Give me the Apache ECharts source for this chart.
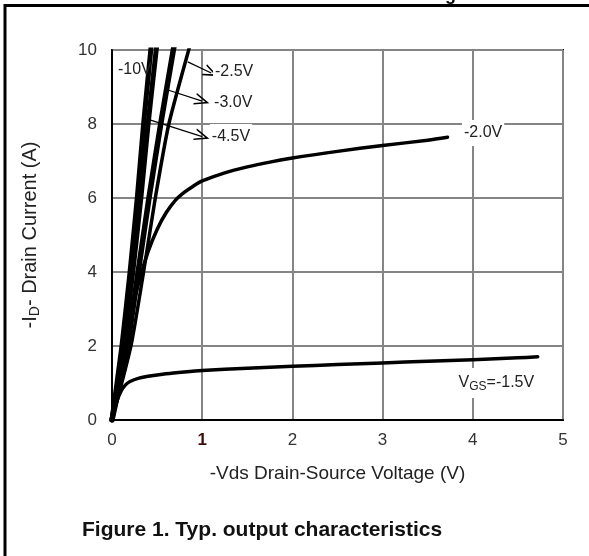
<!DOCTYPE html>
<html>
<head>
<meta charset="utf-8">
<title>Typ. output characteristics</title>
<script src="https://cdn.jsdelivr.net/npm/echarts@6/dist/echarts.min.js"></script>
<style>
  html, body { margin: 0; padding: 0; background: #fff; }
  #chart { width: 589px; height: 556px; }
</style>
</head>
<body>
<div id="chart"></div>
<script>
// 输出特性曲线 [-Vds, -Id]
var curveM10 = [[0,0],[0.11,2],[0.2,4],[0.28,6],[0.35,8],[0.43,10],[0.445,10.4]];
var curveM45 = [[0,0],[0.13,2],[0.23,4],[0.32,6],[0.4,8],[0.49,10],[0.51,10.4]];
var curveM30 = [[0,0],[0.17,2],[0.29,4],[0.41,6],[0.54,8],[0.68,10],[0.71,10.4]];
var curveM25 = [[0,0],[0.21,2],[0.35,4],[0.48,6],[0.63,8],[0.85,10],[0.9,10.4]];
var curveM20 = [[0,0],[0.1,1.55],[0.2,2.75],[0.3,3.75],[0.4,4.55],[0.5,5.15],[0.6,5.6],[0.7,5.93],
                [0.8,6.15],[0.9,6.32],[1.0,6.46],[1.25,6.68],[1.5,6.84],[1.75,6.97],[2.0,7.08],
                [2.5,7.26],[3.0,7.42],[3.5,7.56],[3.72,7.64]];
var curveM15 = [[0,0],[0.025,0.25],[0.05,0.48],[0.1,0.78],[0.15,0.95],[0.2,1.04],[0.3,1.13],[0.4,1.18],
                [0.6,1.25],[0.8,1.3],[1.0,1.34],[1.5,1.4],[2,1.45],[2.5,1.5],[3,1.54],[3.5,1.59],
                [4,1.63],[4.5,1.68],[4.72,1.71]];

var vgsNames = ['-10V', '-4.5V', '-3.0V', '-2.5V', '-2.0V', '-1.5V'];
var xTicks = [0, 1, 2, 3, 4, 5];

// 空心箭头
var arrowHead = 'path://M6,0 L12,16 L10.4,16 L6,4.5 L1.6,16 L0,16 Z';

var chart = echarts.init(document.getElementById('chart'));

function tag(text, x, y) {
    return { coord: [x, y], value: text };
}
function arrow(x1, y1, x2, y2) {
    return [{ coord: [x1, y1] }, { coord: [x2, y2] }];
}

var tagLabel = {
    show: true,
    position: 'right',
    distance: 0,
    color: '#222',
    fontSize: 16,
    fontFamily: 'Liberation Sans',
    backgroundColor: '#fff',
    padding: [5, 2],
    formatter: '{c}',
    rich: {
        v: { fontSize: 16, color: '#222', fontFamily: 'Liberation Sans' },
        s: { fontSize: 12, color: '#222', fontFamily: 'Liberation Sans', padding: [8, 0, 0, 0] }
    }
};

function makeSeries(name, data, width, smooth, tags, arrows) {
    var s = {
        name: name,
        type: 'line',
        data: data,
        smooth: smooth,
        showSymbol: false,
        symbol: 'none',
        lineStyle: { color: '#000', width: width, cap: 'round', join: 'round' },
        z: 3
    };
    if (tags) {
        s.markPoint = {
            symbol: 'circle',
            symbolSize: 0,
            silent: true,
            label: tagLabel,
            data: tags
        };
    }
    if (arrows) {
        s.markLine = {
            silent: true,
            symbol: ['none', arrowHead],
            symbolSize: [12, 15],
            label: { show: false },
            lineStyle: { color: '#000', width: 1.2, type: 'solid' },
            data: arrows
        };
    }
    return s;
}

var tag10 = tag('-10V', 0.044, 9.46);
tag10.label = { backgroundColor: 'transparent' };

var option = {
    animation: false,
    backgroundColor: '#fff',
    textStyle: { fontFamily: 'Liberation Sans' },
    grid: {
        left: 112, right: 26, top: 50, bottom: 136,
        show: true, borderColor: '#000', borderWidth: 2
    },
    xAxis: {
        type: 'value',
        min: 0, max: 5, interval: 1,
        name: '-Vds Drain-Source Voltage (V)',
        nameLocation: 'middle',
        nameGap: 44,
        nameTextStyle: { fontSize: 19, color: '#222', fontFamily: 'Liberation Sans' },
        axisLine: { show: true, lineStyle: { color: '#000', width: 2 } },
        axisTick: { show: false },
        axisLabel: {
            margin: 12,
            fontSize: 17,
            color: '#333',
            formatter: function (v) {
                return xTicks.indexOf(v) === 1 ? '{b|' + v + '}' : String(v);
            },
            rich: { b: { fontSize: 17, fontWeight: 'bold', color: '#3a0c0c' } }
        },
        splitLine: { show: true, lineStyle: { color: '#858585', width: 2 } }
    },
    yAxis: {
        type: 'value',
        min: 0, max: 10, interval: 2,
        name: '-I{sub|D}- Drain Current (A)',
        nameLocation: 'middle',
        nameRotate: 90,
        nameGap: 70,
        nameTextStyle: {
            fontSize: 20, color: '#222', fontFamily: 'Liberation Sans',
            rich: { sub: { fontSize: 14, color: '#222', padding: [9, 0, 0, 0] } }
        },
        axisLine: { show: true, lineStyle: { color: '#000', width: 2 } },
        axisTick: { show: false },
        axisLabel: { margin: 15, fontSize: 17, color: '#333' },
        splitLine: { show: true, lineStyle: { color: '#858585', width: 2 } }
    },
    graphic: [
        {
            type: 'polyline',
            shape: { points: [[5, 556], [5, 5.5], [589, 5.5]] },
            style: { stroke: '#000', lineWidth: 3, fill: null },
            silent: true
        },
        {
            type: 'text',
            left: 445, top: -14,
            style: { text: 'g', font: 'bold 18px "Liberation Sans"', fill: '#000' },
            silent: true
        },
        {
            type: 'text',
            left: 82, top: 520,
            style: {
                text: 'Figure 1. Typ. output characteristics',
                font: 'bold 21px "Liberation Sans"', fill: '#111'
            },
            silent: true
        }
    ],
    series: [
        makeSeries(vgsNames[0], curveM10, 5, 0.15, [tag10]),
        makeSeries(vgsNames[1], curveM45, 5, 0.15, [tag('-4.5V', 1.085, 7.65)], [arrow(0.42, 8.11, 1.0, 7.66)]),
        makeSeries(vgsNames[2], curveM30, 5.5, 0.15, [tag('-3.0V', 1.11, 8.57)], [arrow(0.62, 8.92, 1.0, 8.62)]),
        makeSeries(vgsNames[3], curveM25, 3.5, 0.2, [tag('-2.5V', 1.12, 9.41)], [arrow(0.84, 9.68, 1.1, 9.38)]),
        makeSeries(vgsNames[4], curveM20, 3.5, 0.3, [tag('-2.0V', 3.88, 7.76)]),
        makeSeries(vgsNames[5], curveM15, 3.5, 0.3, [{
            coord: [3.82, 1.0], value: '-1.5V',
            label: { formatter: '{v|V}{s|GS}{v|=-1.5V}' }
        }])
    ]
};

chart.setOption(option);
</script>
</body>
</html>
